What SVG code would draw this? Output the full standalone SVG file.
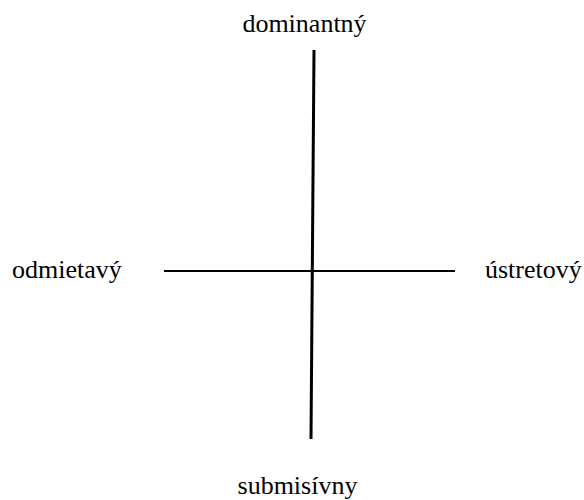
<svg xmlns="http://www.w3.org/2000/svg" width="584" height="500" viewBox="0 0 584 500">
<style>
text{font-family:'Liberation Serif','Times New Roman',serif;font-size:26px;fill:#000}
.ax{stroke:#000;fill:none}
</style>
<rect width="584" height="500" fill="#fff"/>
<g id="connectors">
<line class="ax" x1="314" y1="50" x2="311" y2="439" stroke-width="3"/>
<line class="ax" x1="164" y1="271" x2="455" y2="271" stroke-width="2"/>
</g>
<g id="dominantny"><text x="304.5" y="32" text-anchor="middle">dominantný</text></g>
<g id="odmietavy"><text x="12" y="278">odmietavý</text></g>
<g id="ustretovy"><text x="485" y="278">ústretový</text></g>
<g id="submisivny"><text x="297.5" y="494" text-anchor="middle">submisívny</text></g>
</svg>
